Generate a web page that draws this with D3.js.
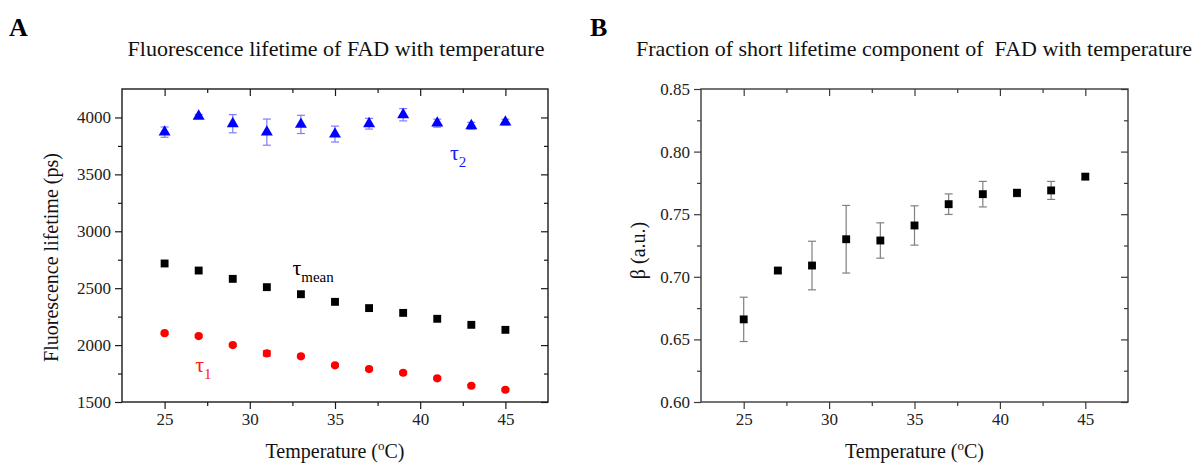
<!DOCTYPE html>
<html>
<head>
<meta charset="utf-8">
<script src="https://cdn.jsdelivr.net/npm/d3@7"></script>
<style>
  body { margin: 0; background: #fff; }
  text { font-family: "Liberation Serif", "Times New Roman", serif; }
</style>
</head>
<body>
<svg id="fig"></svg>
<script>
// ---- data ----
const temperatures = [25, 27, 29, 31, 33, 35, 37, 39, 41, 43, 45];

// panel A: lifetimes (ps)
const tau2     = [3871, 4011, 3945, 3871, 3939, 3854, 3945, 4024, 3950, 3927, 3959];
const tau2Err  = [45, 15, 80, 115, 80, 70, 47, 54, 35, 30, 25];
const tauMean  = [2717, 2655, 2582, 2509, 2447, 2380, 2325, 2283, 2231, 2178, 2134];
const tau1     = [2105, 2079, 2000, 1927, 1901, 1822, 1789, 1757, 1708, 1643, 1608];
const tau1Err  = [10, 10, 10, 22, 10, 10, 10, 10, 10, 10, 10];

// panel B: fraction of short component
const beta     = [0.666, 0.705, 0.709, 0.730, 0.729, 0.741, 0.758, 0.766, 0.767, 0.769, 0.780];
const betaErr  = [0.0177, 0.002, 0.0194, 0.027, 0.0141, 0.0157, 0.0082, 0.0102, 0.003, 0.0072, 0.002];

// tick labels
const xTicks = [25, 30, 35, 40, 45];
const xMinor = [27.5, 32.5, 37.5, 42.5];
const yTicksA = [1500, 2000, 2500, 3000, 3500, 4000];
const yMinorA = [1750, 2250, 2750, 3250, 3750];
const yTicksB = [0.60, 0.65, 0.70, 0.75, 0.80, 0.85];
const yMinorB = [0.625, 0.675, 0.725, 0.775, 0.825];

const svg = d3.select('#fig')
    .attr('width', 1197)
    .attr('height', 465);

class ScatterPanel {

    constructor( config ) {
        this.config = config;
        this.init();
    }

    init() {
        let self = this;
        const c = self.config;

        self.chart = svg.append('g')
            .attr('transform', `translate(${c.left}, ${c.top})`);

        self.xscale = d3.scaleLinear()
            .domain([22.5, 47.5])
            .range([0, c.width]);

        self.yscale = d3.scaleLinear()
            .domain(c.ydomain)
            .range([c.height, 0]);

        // ticks: outward on bottom/left, inward on top/right
        const fmt = c.yformat;
        const axes = [
            [d3.axisBottom(self.xscale).tickValues(xTicks).tickSize(7).tickPadding(4), `translate(0,${c.height})`, true],
            [d3.axisBottom(self.xscale).tickValues(xMinor).tickSize(4).tickFormat(''), `translate(0,${c.height})`, false],
            [d3.axisTop(self.xscale).tickValues(xTicks).tickSize(-7).tickFormat(''), null, false],
            [d3.axisTop(self.xscale).tickValues(xMinor).tickSize(-4).tickFormat(''), null, false],
            [d3.axisLeft(self.yscale).tickValues(c.yticks).tickSize(7).tickPadding(4).tickFormat(fmt), null, true],
            [d3.axisLeft(self.yscale).tickValues(c.yminor).tickSize(4).tickFormat(''), null, false],
            [d3.axisRight(self.yscale).tickValues(c.yticks).tickSize(-7).tickFormat(''), `translate(${c.width},0)`, false],
            [d3.axisRight(self.yscale).tickValues(c.yminor).tickSize(-4).tickFormat(''), `translate(${c.width},0)`, false]
        ];
        axes.forEach(([axis, tr, labelled]) => {
            const g = self.chart.append('g');
            if (tr) g.attr('transform', tr);
            g.call(axis);
            g.select('.domain').remove();
            g.selectAll('line').attr('stroke', c.axisColor).attr('stroke-width', 1.2);
            if (labelled) {
                g.selectAll('text')
                    .attr('fill', '#222')
                    .style('font-family', '"Liberation Serif", serif')
                    .style('font-size', '17px');
            }
        });

        self.chart.append('rect')
            .attr('width', c.width)
            .attr('height', c.height)
            .attr('fill', 'none')
            .attr('stroke', c.axisColor)
            .attr('stroke-width', 1.4);

        // title
        self.chart.append('text')
            .attr('x', c.titleX)
            .attr('y', -33)
            .attr('text-anchor', 'middle')
            .attr('fill', '#111')
            .style('font-size', '22px')
            .text(c.title);

        // x label
        const xl = self.chart.append('text')
            .attr('x', c.width / 2)
            .attr('y', c.height + 56)
            .attr('text-anchor', 'middle')
            .attr('fill', '#111')
            .style('font-size', '20px');
        xl.append('tspan').text('Temperature (');
        xl.append('tspan').attr('dy', -8).style('font-size', '13px').text('o');
        xl.append('tspan').attr('dy', 8).text('C)');

        // y label
        self.chart.append('text')
            .attr('transform', `translate(${c.ylabelX}, ${c.height / 2 + c.ylabelShift}) rotate(-90)`)
            .attr('text-anchor', 'middle')
            .attr('fill', '#111')
            .style('font-size', '20px')
            .text(c.ylabel);

        // panel letter
        svg.append('text')
            .attr('x', c.letterX)
            .attr('y', 36)
            .attr('font-weight', 'bold')
            .attr('fill', '#000')
            .style('font-size', '26px')
            .text(c.letter);
    }

    series( values, errors, symbol, size, color, errColor ) {
        let self = this;
        const pts = temperatures.map((t, i) => ({ t: t, v: values[i], e: errors ? errors[i] : 0 }));
        const cap = 4;

        if (errors) {
            const eb = self.chart.append('g')
                .attr('stroke', errColor)
                .attr('stroke-width', 1.2);
            eb.selectAll('.v').data(pts).enter().append('line')
                .attr('x1', d => self.xscale(d.t))
                .attr('x2', d => self.xscale(d.t))
                .attr('y1', d => self.yscale(d.v - d.e))
                .attr('y2', d => self.yscale(d.v + d.e));
            eb.selectAll('.hi').data(pts).enter().append('line')
                .attr('x1', d => self.xscale(d.t) - cap)
                .attr('x2', d => self.xscale(d.t) + cap)
                .attr('y1', d => self.yscale(d.v + d.e))
                .attr('y2', d => self.yscale(d.v + d.e));
            eb.selectAll('.lo').data(pts).enter().append('line')
                .attr('x1', d => self.xscale(d.t) - cap)
                .attr('x2', d => self.xscale(d.t) + cap)
                .attr('y1', d => self.yscale(d.v - d.e))
                .attr('y2', d => self.yscale(d.v - d.e));
        }

        self.chart.selectAll(null).data(pts).enter().append('path')
            .attr('d', d3.symbol().type(symbol).size(size))
            .attr('transform', d => `translate(${self.xscale(d.t)}, ${self.yscale(d.v)})`)
            .attr('fill', color);
    }

    tauLabel( x, y, sub, color ) {
        let self = this;
        const t = self.chart.append('text')
            .attr('x', self.xscale(x))
            .attr('y', self.yscale(y))
            .attr('fill', color)
            .style('font-size', '22px');
        t.append('tspan').text('\u03c4');
        t.append('tspan').attr('dy', 7).style('font-size', '15px').text(sub);
    }
}

// ---- panel A ----
const panelA = new ScatterPanel({
    left: 122, top: 89, width: 426, height: 313,
    ydomain: [1500, 4250],
    yticks: yTicksA, yminor: yMinorA, yformat: d3.format('d'),
    axisColor: '#1a1a1a',
    title: 'Fluorescence lifetime of FAD with temperature',
    titleX: 214,
    ylabel: 'Fluorescence lifetime (ps)',
    ylabelX: -64, ylabelShift: 12,
    letter: 'A', letterX: 9
});
panelA.series(tau2, tau2Err, d3.symbolTriangle, 62, '#0000ff', '#7d7dff');
panelA.series(tauMean, null, d3.symbolSquare, 62, '#000000', '#000');
panelA.series(tau1, tau1Err, d3.symbolCircle, 52, '#ff0000', '#c02020');
panelA.tauLabel(41.75, 3626, '2', '#1a1aff');
panelA.tauLabel(32.5, 2616, 'mean', '#000');
panelA.tauLabel(26.8, 1764, '1', '#ff1a1a');

// ---- panel B ----
const panelB = new ScatterPanel({
    left: 701, top: 89, width: 427, height: 313,
    ydomain: [0.60, 0.85],
    yticks: yTicksB, yminor: yMinorB, yformat: d3.format('.2f'),
    axisColor: '#3a3a3a',
    title: 'Fraction of short lifetime component of \u00a0FAD with temperature',
    titleX: 213,
    ylabel: '\u03b2 (a.u.)',
    ylabelX: -56, ylabelShift: 5,
    letter: 'B', letterX: 590
});
panelB.series(beta, betaErr, d3.symbolSquare, 62, '#000000', '#808080');
</script>
</body>
</html>
